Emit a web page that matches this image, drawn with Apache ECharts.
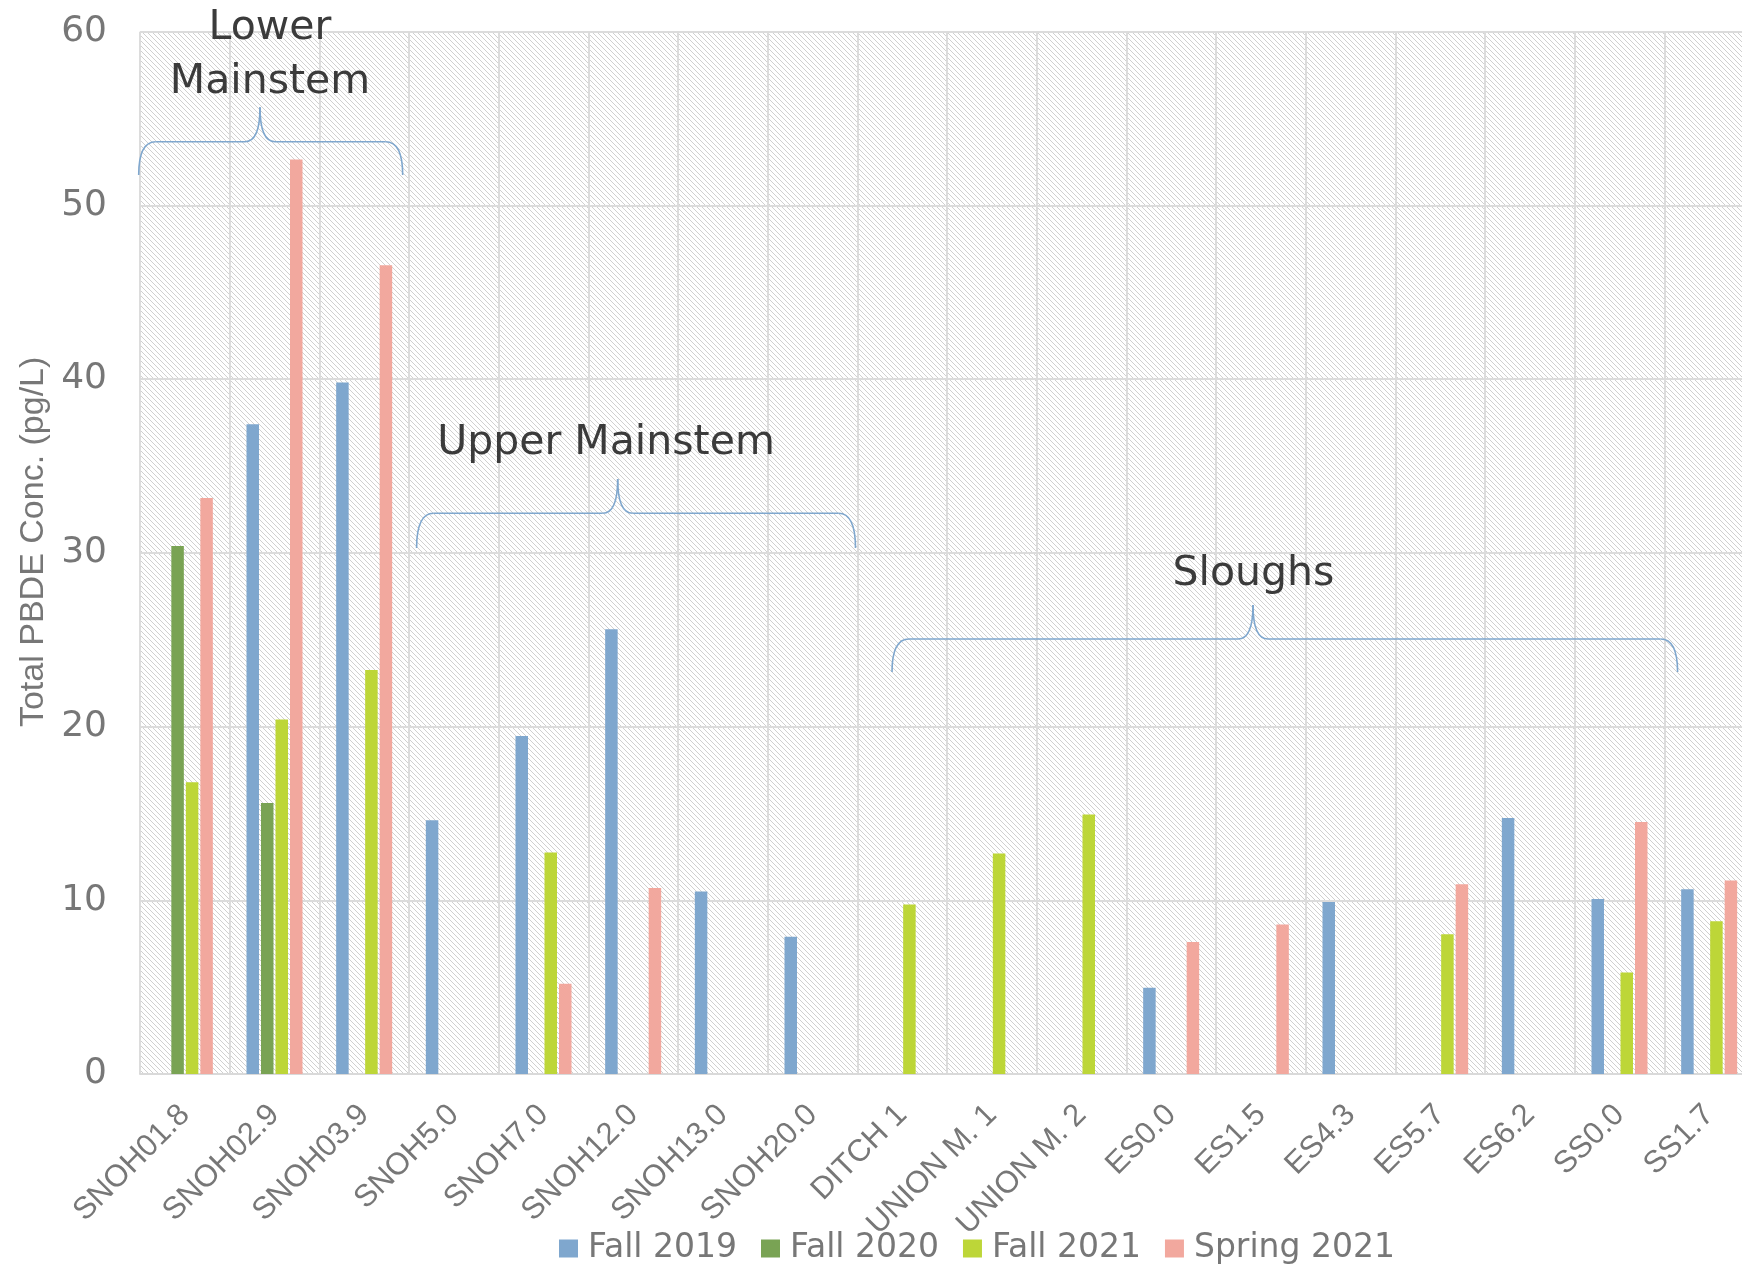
<!DOCTYPE html>
<html>
<head>
<meta charset="utf-8">
<title>Total PBDE Concentration by Site</title>
<script src="https://cdn.jsdelivr.net/npm/echarts@6.0.0/dist/echarts.min.js"></script>
<style>
  html, body { margin: 0; padding: 0; background: #ffffff; }
  #chart { width: 1742px; height: 1268px; }
</style>
</head>
<body>
<div id="chart"></div>
<script>
// Sampling sites along the river, its upper reach and the sloughs
const categories = ['SNOH01.8', 'SNOH02.9', 'SNOH03.9', 'SNOH5.0', 'SNOH7.0', 'SNOH12.0',
  'SNOH13.0', 'SNOH20.0', 'DITCH 1', 'UNION M. 1', 'UNION M. 2', 'ES0.0', 'ES1.5',
  'ES4.3', 'ES5.7', 'ES6.2', 'SS0.0', 'SS1.7'];

// Total PBDE concentration (pg/L) per sampling event; null = not sampled
const fall2019 = [null, 37.4, 39.8, 14.6, 19.45, 25.6, 10.5, 7.9, null, null, null, 4.97, null, 9.9, null, 14.73, 10.07, 10.63];
const fall2020 = [30.4, 15.6, null, null, null, null, null, null, null, null, null, null, null, null, null, null, null, null];
const fall2021 = [16.8, 20.4, 23.25, null, 12.75, null, null, null, 9.76, 12.7, 14.94, null, null, null, 8.05, null, 5.85, 8.8];
const spring2021 = [33.16, 52.65, 46.55, null, 5.2, 10.7, null, null, null, null, null, 7.6, 8.6, null, 10.93, null, 14.5, 11.14];

const seriesNames = ['Fall 2019', 'Fall 2020', 'Fall 2021', 'Spring 2021'];
const yTicks = { min: 0, max: 60, interval: 10 };

const colors = ['#7fa7ce', '#79a354', '#bdd638', '#f2a89e'];

// Light diagonal hatch used as the plot-area fill
function hatchPattern() {
  const size = 5;
  const c = document.createElement('canvas');
  c.width = size; c.height = size;
  const ctx = c.getContext('2d');
  ctx.fillStyle = '#ffffff';
  ctx.fillRect(0, 0, size, size);
  ctx.fillStyle = '#d0d0d0';
  for (let i = 0; i < size; i++) ctx.fillRect(i, i, 1, 1);
  return { image: c, repeat: 'repeat' };
}

// Curly brace built from quadratic curves and straight arms:
// ends at yEnd, long arms at yArm, point at (xTip, yTip)
function braceElements(x0, x1, xTip, yEnd, yArm, yTip) {
  const r = 17, rt = 15;
  const style = { stroke: '#7fa7ce', lineWidth: 1.6, fill: null };
  const curve = (ax, ay, cx, cy, bx, by) => ({
    type: 'bezierCurve', z: 100, silent: true,
    shape: { x1: ax, y1: ay, cpx1: cx, cpy1: cy, x2: bx, y2: by },
    style: style
  });
  const line = (ax, ay, bx, by) => ({
    type: 'line', z: 100, silent: true,
    shape: { x1: ax, y1: ay, x2: bx, y2: by },
    style: style
  });
  return [
    curve(x0, yEnd, x0, yArm, x0 + r, yArm),
    line(x0 + r, yArm, xTip - rt, yArm),
    curve(xTip - rt, yArm, xTip, yArm, xTip, yTip),
    curve(xTip, yTip, xTip, yArm, xTip + rt, yArm),
    line(xTip + rt, yArm, x1 - r, yArm),
    curve(x1 - r, yArm, x1, yArm, x1, yEnd)
  ];
}

const groupLabels = [
  { lines: ['Lower', 'Mainstem'], x: 270, y: 28.5, brace: [138.7, 402.7, 260, 175, 141.7, 107.3] },
  { lines: ['Upper Mainstem'], x: 606, y: 443.5, brace: [416.6, 855.5, 617.7, 548, 513.3, 479] },
  { lines: ['Sloughs'], x: 1253.5, y: 574, brace: [892, 1677.6, 1253, 672, 639, 605] }
];

const graphics = [];
groupLabels.forEach(g => {
  g.lines.forEach((t, i) => {
    graphics.push({
      type: 'text', x: g.x, y: g.y + i * 53.4, z: 100, silent: true,
      style: { text: t, fontSize: 41, fontFamily: 'DejaVu Sans', fill: '#3b3b3b',
        align: 'center', verticalAlign: 'middle' }
    });
  });
  braceElements.apply(null, g.brace).forEach(el => graphics.push(el));
});

const seriesData = [fall2019, fall2020, fall2021, spring2021];

const chart = echarts.init(document.getElementById('chart'), null, { renderer: 'canvas' });
chart.setOption({
  animation: false,
  backgroundColor: '#ffffff',
  color: colors,
  grid: {
    left: 140, top: 31.7, right: -12, bottom: 194,
    show: true, backgroundColor: hatchPattern(), borderWidth: 0,
    containLabel: false, outerBoundsMode: 'none'
  },
  legend: {
    data: seriesNames,
    left: 559, top: 1232, padding: 0,
    itemWidth: 19, itemHeight: 18, itemGap: 24,
    icon: 'rect',
    textStyle: { fontSize: 33, fontFamily: 'DejaVu Sans', color: '#777777', padding: [0, 0, 0, 5] }
  },
  xAxis: {
    type: 'category',
    data: categories,
    boundaryGap: true,
    axisLine: { show: true, lineStyle: { color: '#d9d9d9', width: 2 } },
    axisTick: { show: false },
    splitLine: { show: true, lineStyle: { color: '#dcdcdc', width: 2 } },
    axisLabel: {
      interval: 0, rotate: 45, margin: 36, hideOverlap: false,
      fontSize: 31, fontFamily: 'Liberation Sans, Arial, sans-serif', color: '#777777'
    }
  },
  yAxis: {
    type: 'value',
    min: yTicks.min, max: yTicks.max, interval: yTicks.interval,
    name: 'Total PBDE Conc. (pg/L)',
    nameLocation: 'middle', nameGap: 88, nameRotate: 90,
    nameTextStyle: { fontSize: 34, fontFamily: 'Liberation Sans, Arial, sans-serif', color: '#777777', padding: [0, 0, 0, 22] },
    axisLine: { show: false },
    axisTick: { show: false },
    splitLine: { show: true, lineStyle: { color: '#dcdcdc', width: 2 } },
    axisLabel: { margin: 33, fontSize: 36, fontFamily: 'DejaVu Sans', color: '#777777' }
  },
  series: seriesNames.map((name, i) => ({
    name: name,
    type: 'bar',
    data: seriesData[i],
    barWidth: 12.5,
    barGap: '16%',
    itemStyle: { color: colors[i] }
  })),
  graphic: graphics
});
</script>
</body>
</html>
